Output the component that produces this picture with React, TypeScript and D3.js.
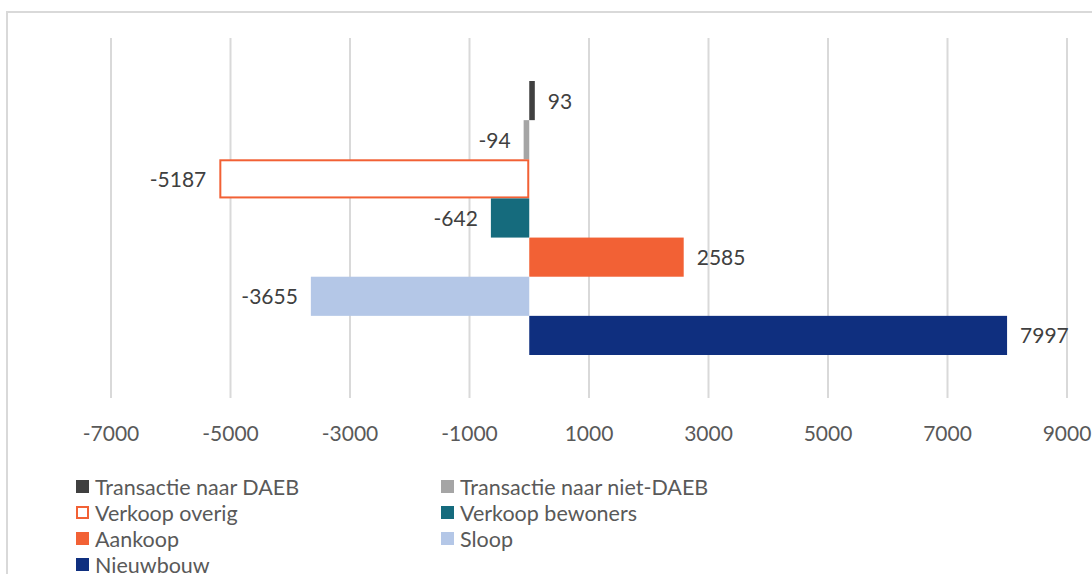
import React from "react";
import * as d3 from "d3";

const seriesNames = [
  "Transactie naar DAEB",
  "Transactie naar niet-DAEB",
  "Verkoop overig",
  "Verkoop bewoners",
  "Aankoop",
  "Sloop",
  "Nieuwbouw",
];
const seriesValues = [93, -94, -5187, -642, 2585, -3655, 7997];
const seriesFills = ["#404040", "#a5a5a5", "#ffffff", "#156b7d", "#f26135", "#b4c7e7", "#0f2f7f"];
const seriesStrokes = ["none", "none", "#f26135", "none", "none", "none", "none"];
const tickValues = [-7000, -5000, -3000, -1000, 1000, 3000, 5000, 7000, 9000];

const W = 1092;
const H = 574;
const FONT = "Lato, 'Open Sans', sans-serif";

export default function App() {
  const x = d3.scaleLinear().domain([-7000, 9000]).range([111, 1067]);
  const y = d3.scaleBand<string>().domain(seriesNames).range([81, 355]).padding(0);
  const gridTop = 38;
  const gridBottom = 398;

  const legendCols = [76, 441];
  const legendRowY = [487, 513, 539, 565];

  return (
    <div style={{ position: "absolute", left: 0, top: 0, width: W, height: H, background: "#fff" }}>
      <svg width={W} height={H} style={{ display: "block" }} fontFamily={FONT}>
        <rect x={0} y={0} width={W} height={H} fill="#fff" />
        <rect x={7} y={12} width={W + 20} height={H + 20} fill="none" stroke="#d9d9d9" strokeWidth={2} />
        {tickValues.map((t) => (
          <g key={t}>
            <line x1={x(t)} x2={x(t)} y1={gridTop} y2={gridBottom} stroke="#d9d9d9" strokeWidth={2} />
            <text x={x(t)} y={441} textAnchor="middle" fontSize={21} fill="#595959">
              {t}
            </text>
          </g>
        ))}
        {seriesNames.map((name, i) => {
          const v = seriesValues[i];
          const x0 = x(Math.min(0, v));
          const x1 = x(Math.max(0, v));
          const yy = y(name)!;
          const bh = y.bandwidth();
          const hasStroke = seriesStrokes[i] !== "none";
          return (
            <g key={name}>
              <rect
                x={hasStroke ? x0 + 1 : x0}
                y={hasStroke ? yy + 1 : yy}
                width={hasStroke ? x1 - x0 - 2 : x1 - x0}
                height={hasStroke ? bh - 2 : bh}
                fill={seriesFills[i]}
                stroke={seriesStrokes[i]}
                strokeWidth={2}
              />
              <text
                x={v >= 0 ? x1 + 13 : x0 - 13}
                y={yy + bh / 2 + 8}
                textAnchor={v >= 0 ? "start" : "end"}
                fontSize={21}
                fill="#404040"
              >
                {v}
              </text>
            </g>
          );
        })}
        {seriesNames.map((name, i) => {
          const col = i % 2;
          const row = Math.floor(i / 2);
          const lx = legendCols[col];
          const ly = legendRowY[row];
          const hasStroke = seriesStrokes[i] !== "none";
          return (
            <g key={"lg" + name}>
              <rect
                x={hasStroke ? lx + 1 : lx}
                y={hasStroke ? ly - 6 : ly - 7}
                width={hasStroke ? 11 : 13}
                height={hasStroke ? 11 : 13}
                fill={seriesFills[i]}
                stroke={seriesStrokes[i]}
                strokeWidth={2}
              />
              <text x={lx + 19} y={ly + 8} fontSize={21.5} fill="#595959">
                {name}
              </text>
            </g>
          );
        })}
      </svg>
    </div>
  );
}
